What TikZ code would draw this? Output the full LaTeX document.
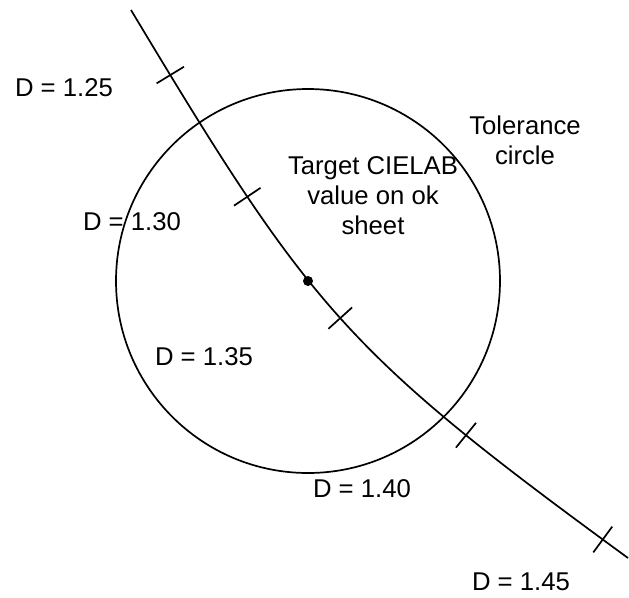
\documentclass[tikz,border=0pt]{standalone}
\usepackage{fontspec}
\setmainfont{Liberation Sans}
\usetikzlibrary{decorations.markings}

\begin{document}
\begin{tikzpicture}[
  x=1pt, y=-1pt,
  line width=1.7pt,
  lbl/.style={font=\fontsize{25.7}{30}\selectfont, inner sep=0pt, align=center},
  tol/.style={circle, draw, line width=1.7pt, minimum size=384pt, inner sep=0pt},
  dot/.style={circle, fill, minimum size=10pt, inner sep=0pt},
  ticks/.style={postaction={decorate}, decoration={markings,
    mark=at position 76pt with {\draw (0,-16pt) -- (0,16pt);},
    mark=at position 220pt with {\draw (0,-16pt) -- (0,16pt);},
    mark=at position 373pt with {\draw (0,-16pt) -- (0,16pt);},
    mark=at position 545pt with {\draw (0,-16pt) -- (0,16pt);},
    mark=at position 717pt with {\draw (0,-16pt) -- (0,16pt);}}},
]
\useasboundingbox (0,0) rectangle (629,597);

%% -- Tolerance circle and target ------------------------------------
\node[tol] (circ) at (308,281) {};
\node[dot] (target) at (circ.center) {};

%% -- Density curve ---------------------------------------------------
\coordinate (top) at (131,10);
\coordinate (bot) at (628,558);
\draw[ticks] (top) .. controls (311,310) and (346,352) .. (bot);

%% -- Labels ------------------------------------------------------------
\node[lbl] (d125) at (64,88) {D = 1.25};
\node[lbl] (d130) at (132,222) {D = 1.30};
\node[lbl] (d135) at (204,357) {D = 1.35};
\node[lbl] (d140) at (362,489) {D = 1.40};
\node[lbl] (d145) at (521,582) {D = 1.45};
\node[lbl] (tgt) at (373,196) {Target CIELAB\\value on ok\\sheet};
\node[lbl] (tolc) at (525,140) {Tolerance\\circle};

\end{tikzpicture}
\end{document}
